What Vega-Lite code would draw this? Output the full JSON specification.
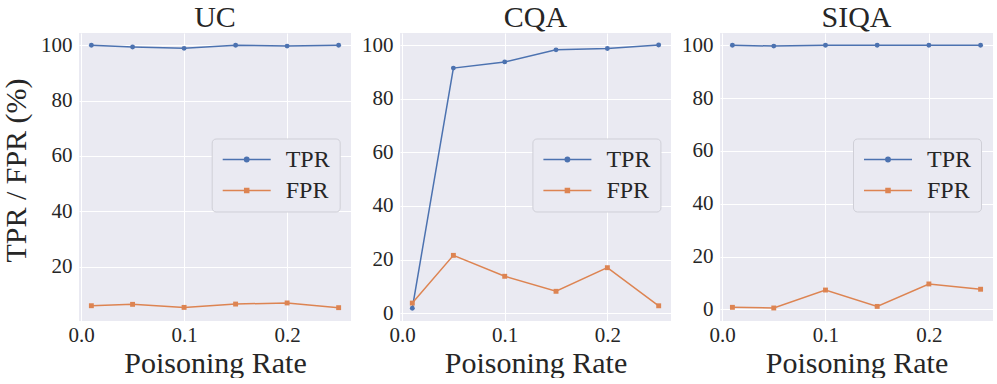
{
  "$schema": "https://vega.github.io/schema/vega-lite/v6.json",
  "background": "white",
  "padding": {"left": 1, "top": 2, "right": 0, "bottom": 0},
  "datasets": {
    "d": [
      {"dataset": "UC", "metric": "TPR", "rate": 0.01, "value": 100},
      {"dataset": "UC", "metric": "TPR", "rate": 0.05, "value": 99.4},
      {"dataset": "UC", "metric": "TPR", "rate": 0.10, "value": 98.9},
      {"dataset": "UC", "metric": "TPR", "rate": 0.15, "value": 100},
      {"dataset": "UC", "metric": "TPR", "rate": 0.20, "value": 99.7},
      {"dataset": "UC", "metric": "TPR", "rate": 0.25, "value": 100},
      {"dataset": "UC", "metric": "FPR", "rate": 0.01, "value": 5.9},
      {"dataset": "UC", "metric": "FPR", "rate": 0.05, "value": 6.4},
      {"dataset": "UC", "metric": "FPR", "rate": 0.10, "value": 5.3},
      {"dataset": "UC", "metric": "FPR", "rate": 0.15, "value": 6.5},
      {"dataset": "UC", "metric": "FPR", "rate": 0.20, "value": 6.9},
      {"dataset": "UC", "metric": "FPR", "rate": 0.25, "value": 5.2},
      {"dataset": "CQA", "metric": "TPR", "rate": 0.01, "value": 1.9},
      {"dataset": "CQA", "metric": "TPR", "rate": 0.05, "value": 91.4},
      {"dataset": "CQA", "metric": "TPR", "rate": 0.10, "value": 93.7},
      {"dataset": "CQA", "metric": "TPR", "rate": 0.15, "value": 98.2},
      {"dataset": "CQA", "metric": "TPR", "rate": 0.20, "value": 98.7},
      {"dataset": "CQA", "metric": "TPR", "rate": 0.25, "value": 100},
      {"dataset": "CQA", "metric": "FPR", "rate": 0.01, "value": 3.8},
      {"dataset": "CQA", "metric": "FPR", "rate": 0.05, "value": 21.6},
      {"dataset": "CQA", "metric": "FPR", "rate": 0.10, "value": 13.8},
      {"dataset": "CQA", "metric": "FPR", "rate": 0.15, "value": 8.2},
      {"dataset": "CQA", "metric": "FPR", "rate": 0.20, "value": 17.0},
      {"dataset": "CQA", "metric": "FPR", "rate": 0.25, "value": 2.8},
      {"dataset": "SIQA", "metric": "TPR", "rate": 0.01, "value": 100},
      {"dataset": "SIQA", "metric": "TPR", "rate": 0.05, "value": 99.7},
      {"dataset": "SIQA", "metric": "TPR", "rate": 0.10, "value": 100},
      {"dataset": "SIQA", "metric": "TPR", "rate": 0.15, "value": 100},
      {"dataset": "SIQA", "metric": "TPR", "rate": 0.20, "value": 100},
      {"dataset": "SIQA", "metric": "TPR", "rate": 0.25, "value": 100},
      {"dataset": "SIQA", "metric": "FPR", "rate": 0.01, "value": 0.75},
      {"dataset": "SIQA", "metric": "FPR", "rate": 0.05, "value": 0.5},
      {"dataset": "SIQA", "metric": "FPR", "rate": 0.10, "value": 7.3},
      {"dataset": "SIQA", "metric": "FPR", "rate": 0.15, "value": 1.1},
      {"dataset": "SIQA", "metric": "FPR", "rate": 0.20, "value": 9.6},
      {"dataset": "SIQA", "metric": "FPR", "rate": 0.25, "value": 7.6}
    ]
  },
  "config": {
    "font": "Liberation Serif",
    "view": {"fill": "#eaeaf2", "stroke": null},
    "axis": {
      "domain": false, "ticks": false, "grid": true, "gridColor": "#ffffff", "gridWidth": 1,
      "labelFont": "Liberation Serif", "labelFontSize": 21, "labelColor": "#262626", "labelPadding": 7,
      "labelFlush": false, "labelOverlap": false, "labelBound": false,
      "titleFont": "Liberation Serif", "titleFontSize": 30, "titleColor": "#262626", "titleFontWeight": "normal"
    },
    "axisX": {"labelPadding": 3, "titlePadding": 3},
    "axisY": {"titlePadding": 9},
    "title": {"font": "Liberation Serif", "fontSize": 30, "fontWeight": "normal", "color": "#262626", "baseline": "alphabetic", "offset": 0.5, "anchor": "middle"},
    "legend": {
      "orient": "none", "title": null, "fillColor": "#eaeaf2", "strokeColor": "#cfcfd7", "cornerRadius": 4,
      "padding": 9, "labelFont": "Liberation Serif", "labelFontSize": 24, "labelColor": "#262626",
      "labelOffset": 27, "symbolOffset": 14, "symbolSize": 400, "symbolStrokeWidth": 1.5, "rowPadding": 7
    }
  },
  "spacing": 49,
  "bounds": "flush",
  "resolve": {
    "scale": {"x": "independent", "y": "independent", "color": "independent"},
    "legend": {"color": "independent"}
  },
  "hconcat": [
    {
      "width": 272, "height": 288, "title": "UC",
      "data": {"name": "d"},
      "transform": [{"filter": "datum.dataset === 'UC'"}],
      "encoding": {
        "x": {"field": "rate", "type": "quantitative", "scale": {"domain": [-0.002, 0.262], "nice": false, "zero": false}, "axis": {"values": [0, 0.1, 0.2], "format": ".1f", "title": "Poisoning Rate"}},
        "y": {"field": "value", "type": "quantitative", "scale": {"domain": [0.38, 104.44], "nice": false, "zero": false}, "axis": {"values": [20, 40, 60, 80, 100], "title": "TPR / FPR (%)", "titleY": 137}},
        "color": {"field": "metric", "type": "nominal", "scale": {"domain": ["TPR", "FPR"], "range": ["#4c72b0", "#dd8452"]},
          "legend": {"legendX": 132.7, "legendY": 105.5,
            "encode": {"symbols": {"update": {
              "shape": {"signal": "datum.value === 'TPR' ? 'M-2.4,0H2.4M-0.22,0A0.22,0.22 0 1,1 0.22,0A0.22,0.22 0 1,1 -0.22,0Z' : 'M-2.4,0H2.4M-0.2,-0.2H0.2V0.2H-0.2Z'"},
              "strokeWidth": {"value": 1.5}}}}}}
      },
      "layer": [
        {"mark": {"type": "line", "strokeWidth": 1.5}},
        {"transform": [{"filter": "datum.metric === 'TPR'"}], "mark": {"type": "point", "shape": "circle", "filled": true, "size": 24, "opacity": 1}},
        {"transform": [{"filter": "datum.metric === 'FPR'"}], "mark": {"type": "point", "shape": "square", "filled": true, "size": 24, "opacity": 1}}
      ]
    },
    {
      "width": 271, "height": 288, "title": "CQA",
      "data": {"name": "d"},
      "transform": [{"filter": "datum.dataset === 'CQA'"}],
      "encoding": {
        "x": {"field": "rate", "type": "quantitative", "scale": {"domain": [-0.002, 0.262], "nice": false, "zero": false}, "axis": {"values": [0, 0.1, 0.2], "format": ".1f", "title": "Poisoning Rate"}},
        "y": {"field": "value", "type": "quantitative", "scale": {"domain": [-2.87, 104.48], "nice": false, "zero": false}, "axis": {"values": [0, 20, 40, 60, 80, 100], "title": null}},
        "color": {"field": "metric", "type": "nominal", "scale": {"domain": ["TPR", "FPR"], "range": ["#4c72b0", "#dd8452"]},
          "legend": {"legendX": 132.4, "legendY": 105.5,
            "encode": {"symbols": {"update": {
              "shape": {"signal": "datum.value === 'TPR' ? 'M-2.4,0H2.4M-0.22,0A0.22,0.22 0 1,1 0.22,0A0.22,0.22 0 1,1 -0.22,0Z' : 'M-2.4,0H2.4M-0.2,-0.2H0.2V0.2H-0.2Z'"},
              "strokeWidth": {"value": 1.5}}}}}}
      },
      "layer": [
        {"mark": {"type": "line", "strokeWidth": 1.5}},
        {"transform": [{"filter": "datum.metric === 'TPR'"}], "mark": {"type": "point", "shape": "circle", "filled": true, "size": 24, "opacity": 1}},
        {"transform": [{"filter": "datum.metric === 'FPR'"}], "mark": {"type": "point", "shape": "square", "filled": true, "size": 24, "opacity": 1}}
      ]
    },
    {
      "width": 273, "height": 288, "title": "SIQA",
      "data": {"name": "d"},
      "transform": [{"filter": "datum.dataset === 'SIQA'"}],
      "encoding": {
        "x": {"field": "rate", "type": "quantitative", "scale": {"domain": [-0.002, 0.262], "nice": false, "zero": false}, "axis": {"values": [0, 0.1, 0.2], "format": ".1f", "title": "Poisoning Rate"}},
        "y": {"field": "value", "type": "quantitative", "scale": {"domain": [-4.43, 104.66], "nice": false, "zero": false}, "axis": {"values": [0, 20, 40, 60, 80, 100], "title": null}},
        "color": {"field": "metric", "type": "nominal", "scale": {"domain": ["TPR", "FPR"], "range": ["#4c72b0", "#dd8452"]},
          "legend": {"legendX": 133, "legendY": 105.5,
            "encode": {"symbols": {"update": {
              "shape": {"signal": "datum.value === 'TPR' ? 'M-2.4,0H2.4M-0.22,0A0.22,0.22 0 1,1 0.22,0A0.22,0.22 0 1,1 -0.22,0Z' : 'M-2.4,0H2.4M-0.2,-0.2H0.2V0.2H-0.2Z'"},
              "strokeWidth": {"value": 1.5}}}}}}
      },
      "layer": [
        {"mark": {"type": "line", "strokeWidth": 1.5}},
        {"transform": [{"filter": "datum.metric === 'TPR'"}], "mark": {"type": "point", "shape": "circle", "filled": true, "size": 24, "opacity": 1}},
        {"transform": [{"filter": "datum.metric === 'FPR'"}], "mark": {"type": "point", "shape": "square", "filled": true, "size": 24, "opacity": 1}}
      ]
    }
  ]
}
